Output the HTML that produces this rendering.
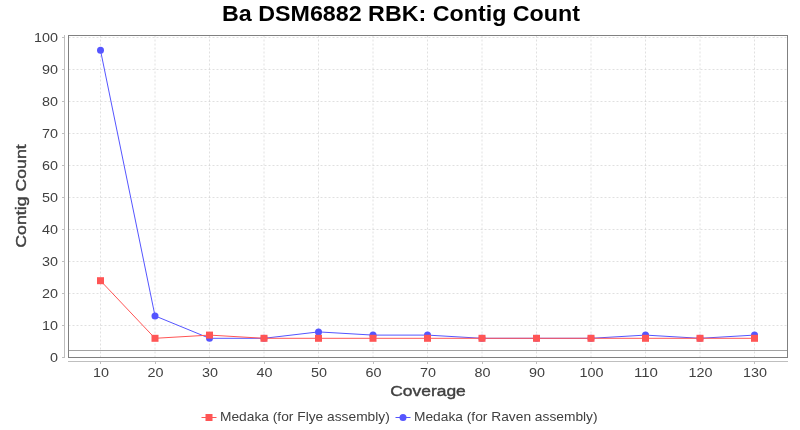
<!DOCTYPE html>
<html lang="en">
<head>
<meta charset="utf-8">
<title>Ba DSM6882 RBK: Contig Count</title>
<style>
html,body{margin:0;padding:0;background:#fff;}
body{width:800px;height:430px;overflow:hidden;}
svg{display:block;will-change:transform;}
text{font-family:"Liberation Sans",sans-serif;}
.tick{font-size:12.72px;fill:#404040;}
.axl{font-size:14.84px;font-weight:normal;fill:#404040;stroke:#404040;stroke-width:0.4px;}
.ttl{font-size:21.20px;font-weight:bold;fill:#000;}
.leg{font-size:12.72px;fill:#404040;}
</style>
</head>
<body>
<svg width="800" height="430" viewBox="0 0 800 430">
<rect x="0" y="0" width="800" height="430" fill="#ffffff"/>
<text class="ttl" x="222.00" y="21.00" text-anchor="start" textLength="358.0" lengthAdjust="spacingAndGlyphs">Ba DSM6882 RBK: Contig Count</text>
<g stroke="#c0c0c0" stroke-width="0.5" stroke-dasharray="2,2" fill="none">
<line x1="68.50" y1="357.50" x2="787.50" y2="357.50"/>
<line x1="68.50" y1="325.50" x2="787.50" y2="325.50"/>
<line x1="68.50" y1="293.50" x2="787.50" y2="293.50"/>
<line x1="68.50" y1="261.50" x2="787.50" y2="261.50"/>
<line x1="68.50" y1="229.50" x2="787.50" y2="229.50"/>
<line x1="68.50" y1="197.50" x2="787.50" y2="197.50"/>
<line x1="68.50" y1="165.50" x2="787.50" y2="165.50"/>
<line x1="68.50" y1="133.50" x2="787.50" y2="133.50"/>
<line x1="68.50" y1="101.50" x2="787.50" y2="101.50"/>
<line x1="68.50" y1="69.50" x2="787.50" y2="69.50"/>
<line x1="68.50" y1="37.50" x2="787.50" y2="37.50"/>
<line x1="100.50" y1="35.50" x2="100.50" y2="357.50"/>
<line x1="155.00" y1="35.50" x2="155.00" y2="357.50"/>
<line x1="209.50" y1="35.50" x2="209.50" y2="357.50"/>
<line x1="264.00" y1="35.50" x2="264.00" y2="357.50"/>
<line x1="318.50" y1="35.50" x2="318.50" y2="357.50"/>
<line x1="373.00" y1="35.50" x2="373.00" y2="357.50"/>
<line x1="427.50" y1="35.50" x2="427.50" y2="357.50"/>
<line x1="482.00" y1="35.50" x2="482.00" y2="357.50"/>
<line x1="536.50" y1="35.50" x2="536.50" y2="357.50"/>
<line x1="591.00" y1="35.50" x2="591.00" y2="357.50"/>
<line x1="645.50" y1="35.50" x2="645.50" y2="357.50"/>
<line x1="700.00" y1="35.50" x2="700.00" y2="357.50"/>
<line x1="754.50" y1="35.50" x2="754.50" y2="357.50"/>
</g>
<line x1="68.50" y1="350.5" x2="787.50" y2="350.5" stroke="#a3a3a3" stroke-width="1" shape-rendering="crispEdges"/>
<polyline points="100.50,50.30 155.00,315.90 209.50,338.30 264.00,338.30 318.50,331.90 373.00,335.10 427.50,335.10 482.00,338.30 536.50,338.30 591.00,338.30 645.50,335.10 700.00,338.30 754.50,335.10" fill="none" stroke="#5555ff" stroke-width="1" stroke-linejoin="miter" stroke-linecap="square"/>
<circle cx="100.50" cy="50.30" r="3.5" fill="#5555ff"/>
<circle cx="155.00" cy="315.90" r="3.5" fill="#5555ff"/>
<circle cx="209.50" cy="338.30" r="3.5" fill="#5555ff"/>
<circle cx="264.00" cy="338.30" r="3.5" fill="#5555ff"/>
<circle cx="318.50" cy="331.90" r="3.5" fill="#5555ff"/>
<circle cx="373.00" cy="335.10" r="3.5" fill="#5555ff"/>
<circle cx="427.50" cy="335.10" r="3.5" fill="#5555ff"/>
<circle cx="482.00" cy="338.30" r="3.5" fill="#5555ff"/>
<circle cx="536.50" cy="338.30" r="3.5" fill="#5555ff"/>
<circle cx="591.00" cy="338.30" r="3.5" fill="#5555ff"/>
<circle cx="645.50" cy="335.10" r="3.5" fill="#5555ff"/>
<circle cx="700.00" cy="338.30" r="3.5" fill="#5555ff"/>
<circle cx="754.50" cy="335.10" r="3.5" fill="#5555ff"/>
<polyline points="100.50,280.70 155.00,338.30 209.50,335.10 264.00,338.30 318.50,338.30 373.00,338.30 427.50,338.30 482.00,338.30 536.50,338.30 591.00,338.30 645.50,338.30 700.00,338.30 754.50,338.30" fill="none" stroke="#ff5555" stroke-width="1" stroke-linejoin="miter" stroke-linecap="square"/>
<rect x="97.00" y="277.20" width="7" height="7" fill="#ff5555"/>
<rect x="151.50" y="334.80" width="7" height="7" fill="#ff5555"/>
<rect x="206.00" y="331.60" width="7" height="7" fill="#ff5555"/>
<rect x="260.50" y="334.80" width="7" height="7" fill="#ff5555"/>
<rect x="315.00" y="334.80" width="7" height="7" fill="#ff5555"/>
<rect x="369.50" y="334.80" width="7" height="7" fill="#ff5555"/>
<rect x="424.00" y="334.80" width="7" height="7" fill="#ff5555"/>
<rect x="478.50" y="334.80" width="7" height="7" fill="#ff5555"/>
<rect x="533.00" y="334.80" width="7" height="7" fill="#ff5555"/>
<rect x="587.50" y="334.80" width="7" height="7" fill="#ff5555"/>
<rect x="642.00" y="334.80" width="7" height="7" fill="#ff5555"/>
<rect x="696.50" y="334.80" width="7" height="7" fill="#ff5555"/>
<rect x="751.00" y="334.80" width="7" height="7" fill="#ff5555"/>
<rect x="68.5" y="35.5" width="719.0" height="322.0" fill="none" stroke="#808080" stroke-width="1" shape-rendering="crispEdges"/>
<g stroke="#bfbfbf" stroke-width="1" shape-rendering="crispEdges">
<line x1="64.5" y1="35" x2="64.5" y2="358"/>
<line x1="68" y1="361.5" x2="788" y2="361.5"/>
<line x1="62" y1="357.5" x2="64" y2="357.5"/>
<line x1="62" y1="325.5" x2="64" y2="325.5"/>
<line x1="62" y1="293.5" x2="64" y2="293.5"/>
<line x1="62" y1="261.5" x2="64" y2="261.5"/>
<line x1="62" y1="229.5" x2="64" y2="229.5"/>
<line x1="62" y1="197.5" x2="64" y2="197.5"/>
<line x1="62" y1="165.5" x2="64" y2="165.5"/>
<line x1="62" y1="133.5" x2="64" y2="133.5"/>
<line x1="62" y1="101.5" x2="64" y2="101.5"/>
<line x1="62" y1="69.5" x2="64" y2="69.5"/>
<line x1="62" y1="37.5" x2="64" y2="37.5"/>
<line x1="100.5" y1="362" x2="100.5" y2="364"/>
<line x1="155.5" y1="362" x2="155.5" y2="364"/>
<line x1="209.5" y1="362" x2="209.5" y2="364"/>
<line x1="264.5" y1="362" x2="264.5" y2="364"/>
<line x1="318.5" y1="362" x2="318.5" y2="364"/>
<line x1="373.5" y1="362" x2="373.5" y2="364"/>
<line x1="427.5" y1="362" x2="427.5" y2="364"/>
<line x1="482.5" y1="362" x2="482.5" y2="364"/>
<line x1="536.5" y1="362" x2="536.5" y2="364"/>
<line x1="591.5" y1="362" x2="591.5" y2="364"/>
<line x1="645.5" y1="362" x2="645.5" y2="364"/>
<line x1="700.5" y1="362" x2="700.5" y2="364"/>
<line x1="754.5" y1="362" x2="754.5" y2="364"/>
</g>
<text class="tick" x="58.00" y="362.10" text-anchor="end" textLength="8.0" lengthAdjust="spacingAndGlyphs">0</text>
<text class="tick" x="58.00" y="330.10" text-anchor="end" textLength="16.0" lengthAdjust="spacingAndGlyphs">10</text>
<text class="tick" x="58.00" y="298.10" text-anchor="end" textLength="16.0" lengthAdjust="spacingAndGlyphs">20</text>
<text class="tick" x="58.00" y="266.10" text-anchor="end" textLength="16.0" lengthAdjust="spacingAndGlyphs">30</text>
<text class="tick" x="58.00" y="234.10" text-anchor="end" textLength="16.0" lengthAdjust="spacingAndGlyphs">40</text>
<text class="tick" x="58.00" y="202.10" text-anchor="end" textLength="16.0" lengthAdjust="spacingAndGlyphs">50</text>
<text class="tick" x="58.00" y="170.10" text-anchor="end" textLength="16.0" lengthAdjust="spacingAndGlyphs">60</text>
<text class="tick" x="58.00" y="138.10" text-anchor="end" textLength="16.0" lengthAdjust="spacingAndGlyphs">70</text>
<text class="tick" x="58.00" y="106.10" text-anchor="end" textLength="16.0" lengthAdjust="spacingAndGlyphs">80</text>
<text class="tick" x="58.00" y="74.10" text-anchor="end" textLength="16.0" lengthAdjust="spacingAndGlyphs">90</text>
<text class="tick" x="58.00" y="42.10" text-anchor="end" textLength="24.0" lengthAdjust="spacingAndGlyphs">100</text>
<text class="tick" x="100.90" y="377.00" text-anchor="middle" textLength="16.0" lengthAdjust="spacingAndGlyphs">10</text>
<text class="tick" x="155.40" y="377.00" text-anchor="middle" textLength="16.0" lengthAdjust="spacingAndGlyphs">20</text>
<text class="tick" x="209.90" y="377.00" text-anchor="middle" textLength="16.0" lengthAdjust="spacingAndGlyphs">30</text>
<text class="tick" x="264.40" y="377.00" text-anchor="middle" textLength="16.0" lengthAdjust="spacingAndGlyphs">40</text>
<text class="tick" x="318.90" y="377.00" text-anchor="middle" textLength="16.0" lengthAdjust="spacingAndGlyphs">50</text>
<text class="tick" x="373.40" y="377.00" text-anchor="middle" textLength="16.0" lengthAdjust="spacingAndGlyphs">60</text>
<text class="tick" x="427.90" y="377.00" text-anchor="middle" textLength="16.0" lengthAdjust="spacingAndGlyphs">70</text>
<text class="tick" x="482.40" y="377.00" text-anchor="middle" textLength="16.0" lengthAdjust="spacingAndGlyphs">80</text>
<text class="tick" x="536.90" y="377.00" text-anchor="middle" textLength="16.0" lengthAdjust="spacingAndGlyphs">90</text>
<text class="tick" x="591.40" y="377.00" text-anchor="middle" textLength="24.0" lengthAdjust="spacingAndGlyphs">100</text>
<text class="tick" x="645.90" y="377.00" text-anchor="middle" textLength="24.0" lengthAdjust="spacingAndGlyphs">110</text>
<text class="tick" x="700.40" y="377.00" text-anchor="middle" textLength="24.0" lengthAdjust="spacingAndGlyphs">120</text>
<text class="tick" x="754.90" y="377.00" text-anchor="middle" textLength="24.0" lengthAdjust="spacingAndGlyphs">130</text>
<text class="axl" x="428.00" y="396.00" text-anchor="middle" textLength="75.5" lengthAdjust="spacingAndGlyphs">Coverage</text>
<text class="axl" x="0.00" y="0.00" text-anchor="middle" textLength="103.5" lengthAdjust="spacingAndGlyphs" transform="translate(26.3,196) rotate(-90)">Contig Count</text>
<line x1="202" y1="417.5" x2="216" y2="417.5" stroke="#ff5555" stroke-width="1" stroke-linecap="square"/>
<rect x="205.5" y="414" width="7" height="7" fill="#ff5555"/>
<text class="leg" x="220.00" y="421.00" text-anchor="start" textLength="169.8" lengthAdjust="spacingAndGlyphs">Medaka (for Flye assembly)</text>
<line x1="396" y1="417.5" x2="410" y2="417.5" stroke="#5555ff" stroke-width="1" stroke-linecap="square"/>
<circle cx="403" cy="417.5" r="3.5" fill="#5555ff"/>
<text class="leg" x="414.00" y="421.00" text-anchor="start" textLength="183.6" lengthAdjust="spacingAndGlyphs">Medaka (for Raven assembly)</text>
</svg>
</body>
</html>
